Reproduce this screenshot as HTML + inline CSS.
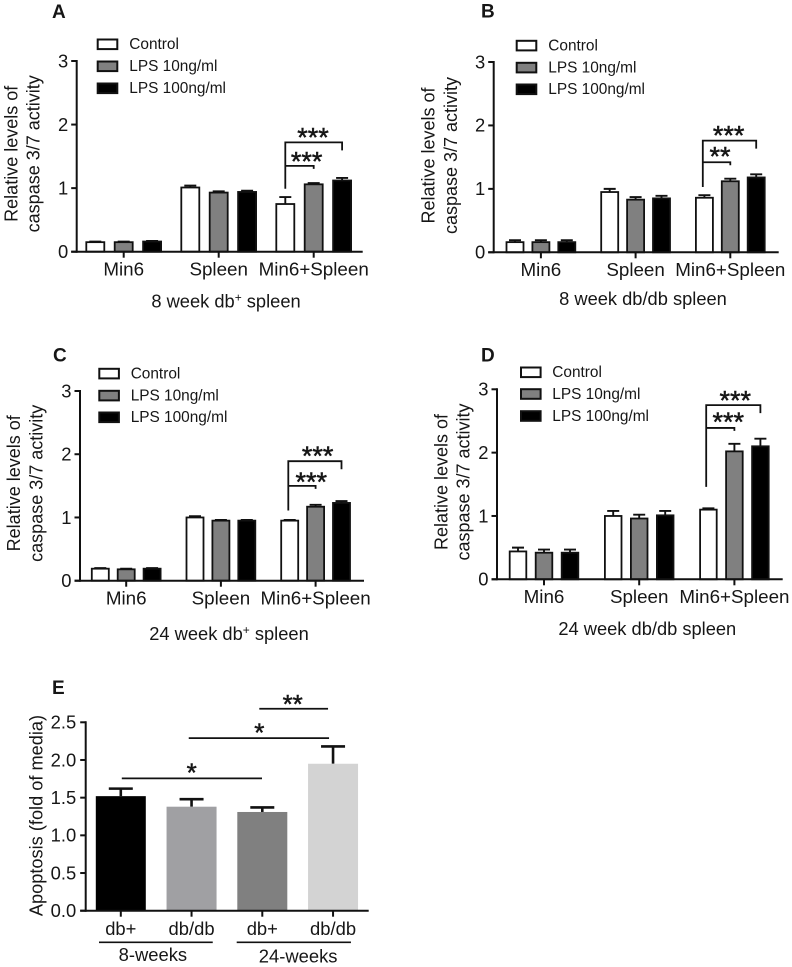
<!DOCTYPE html>
<html>
<head>
<meta charset="utf-8">
<title>Caspase 3/7 activity and apoptosis</title>
<style>
html,body{margin:0;padding:0;background:#fff;}
svg{display:block;font-family:"Liberation Sans",Arial,sans-serif;}
text{fill:#161616;}
</style>
</head>
<body>
<svg id="figure" xmlns="http://www.w3.org/2000/svg" width="792" height="967" viewBox="0 0 792 967"></svg>
<script>
// ---- Data ----
const categories = ['Min6', 'Spleen', 'Min6+Spleen'];
const seriesNames = ['Control', 'LPS 10ng/ml', 'LPS 100ng/ml'];
const caspaseTicks = [0, 1, 2, 3];

const aControl = [0.15, 1.01, 0.75];
const aLps10 = [0.15, 0.93, 1.06];
const aLps100 = [0.16, 0.94, 1.12];
const aControlErr = [0.01, 0.03, 0.11];
const aLps10Err = [0.01, 0.02, 0.02];
const aLps100Err = [0.01, 0.02, 0.04];

const bControl = [0.16, 0.95, 0.86];
const bLps10 = [0.16, 0.83, 1.12];
const bLps100 = [0.16, 0.85, 1.18];
const bControlErr = [0.03, 0.05, 0.04];
const bLps10Err = [0.03, 0.04, 0.04];
const bLps100Err = [0.03, 0.04, 0.05];

const cControl = [0.19, 1.00, 0.95];
const cLps10 = [0.18, 0.95, 1.17];
const cLps100 = [0.19, 0.95, 1.23];
const cControlErr = [0.01, 0.02, 0.01];
const cLps10Err = [0.01, 0.01, 0.03];
const cLps100Err = [0.01, 0.01, 0.03];

const dControl = [0.44, 1.00, 1.10];
const dLps10 = [0.42, 0.96, 2.02];
const dLps100 = [0.42, 1.01, 2.10];
const dControlErr = [0.06, 0.08, 0.02];
const dLps10Err = [0.05, 0.06, 0.12];
const dLps100Err = [0.05, 0.07, 0.12];

const eCategories = ['db+', 'db/db', 'db+', 'db/db'];
const eValues = [1.52, 1.38, 1.31, 1.95];
const eErrors = [0.10, 0.10, 0.06, 0.23];
const eTicks = ['0.0', '0.5', '1.0', '1.5', '2.0', '2.5'];
const eGroups = ['8-weeks', '24-weeks'];

// ---- Layout ----
const svg = document.getElementById('figure');
const NS = 'http://www.w3.org/2000/svg';
const INK = '#111';

function mk(tag, attrs, parent) {
  const n = document.createElementNS(NS, tag);
  for (const k in attrs) n.setAttribute(k, attrs[k]);
  (parent || svg).appendChild(n);
  return n;
}
function line(x1, y1, x2, y2, w, parent) {
  return mk('line', {x1: x1, y1: y1, x2: x2, y2: y2, stroke: INK, 'stroke-width': w, 'stroke-linecap': 'butt'}, parent);
}
function label(str, x, y, size, anchor, parent, extra) {
  const n = mk('text', Object.assign({x: x, y: y, 'font-size': size, 'text-anchor': anchor}, extra || {}), parent);
  n.textContent = str;
  return n;
}
function stars(str, cx, cy, size, parent) {
  return label(str, cx, cy + size * 0.47, size, 'middle', parent, {style: 'stroke:#161616;stroke-width:0.5'});
}

function drawPanel(p) {
  const g = mk('g', {}, svg);
  
  

  const yScale = v => p.y0 + (p.yTop - p.y0) * v / 3;
  const xScale = (group, s) => p.x0 + group * p.gap + s * p.step;
  const fills = ['#ffffff', '#808080', '#000000'];

  let el = label(p.id.toUpperCase(), p.letter[0], p.letter[1], 19, 'start', g, {'font-weight': 'bold'});
  
  

  p.values.forEach((vals, s) => {
    vals.forEach((v, i) => {
      const cx = xScale(i, s);
      const errBar = mk('path', {
        d: 'M' + cx + ' ' + yScale(v) + 'V' + yScale(v + p.errors[s][i]) + 'M' + (cx - 6) + ' ' + yScale(v + p.errors[s][i]) + 'H' + (cx + 6),
        stroke: INK, 'stroke-width': 1.9, fill: 'none'
      }, g);
      
      
      const bar = mk('rect', {
        x: cx - p.barW / 2, y: yScale(v), width: p.barW, height: p.y0 - yScale(v),
        fill: fills[s], stroke: INK, 'stroke-width': 1.8
      }, g);
      
      
    });
  });

  el = line(p.axisX, p.yTop - 1, p.axisX, p.y0 + 1, 2, g);
  
  
  el = line(p.axisX - 5.5, p.y0, p.xEnd, p.y0, 2, g);
  
  

  caspaseTicks.forEach(t => {
    el = line(p.axisX - 5.5, yScale(t), p.axisX, yScale(t), 2, g);
    
    
    el = label(String(t), p.axisX - 8.5, yScale(t) + 6.3, 18.4, 'end', g);
    
    
  });

  categories.forEach((c, i) => {
    const cx = xScale(i, 1);
    el = line(cx, p.y0, cx, p.y0 + 6, 2, g);
    
    
    el = label(c, cx, p.y0 + 23.8, 18.8, 'middle', g);
    
    
  });

  el = label('Relative levels of', 0, 0, 18, 'middle', g, {transform: 'translate(' + p.title[0] + ' ' + p.title[2] + ') rotate(-90)'});
  
  
  el = label('caspase 3/7 activity', 0, 0, 18, 'middle', g, {transform: 'translate(' + p.title[1] + ' ' + p.title[2] + ') rotate(-90)'});
  
  

  const xt = mk('text', {x: p.xTitle[0], y: p.xTitle[1], 'font-size': 18.3, 'text-anchor': 'middle'}, g);
  
  
  if (p.sup) {
    const a = mk('tspan', {}, xt); a.textContent = p.xText[0];
    const b = mk('tspan', {dy: -6, 'font-size': 12}, xt); b.textContent = '+';
    const c = mk('tspan', {dy: 6}, xt); c.textContent = p.xText[1];
  } else {
    xt.textContent = p.xText[0];
  }

  seriesNames.forEach((name, s) => {
    const ly = p.legend.y[s];
    const leg = mk('g', {}, g);
    
    
    mk('rect', {x: p.legend.x + 1, y: ly - 4.5, width: 19.6, height: 9.6, fill: fills[s], stroke: INK, 'stroke-width': 2}, leg);
    label(name, p.legend.tx, ly + 5.2, 15.4, 'start', leg);
  });

  const left = xScale(2, 0) + p.br.dx;
  const rTop = xScale(2, 2);
  const rLow = xScale(2, 1);
  const br = mk('path', {
    d: 'M' + left + ' ' + yScale(p.br.foot) + 'V' + yScale(p.br.top) + 'H' + rTop + 'V' + (yScale(p.br.top) + 8) +
       'M' + left + ' ' + yScale(p.br.low) + 'H' + rLow + 'V' + (yScale(p.br.low) + 3),
    stroke: INK, 'stroke-width': 1.8, fill: 'none'
  }, g);
  
  
  el = stars('***', p.br.s1[0], p.br.s1[1], 27, g);
  
  
  el = stars(p.br.low2 || '***', p.br.s2[0], p.br.s2[1], 27, g);
  
  
}

drawPanel({
  id: 'a', letter: [52, 18], axisX: 76.7, yTop: 61, y0: 251.7, xEnd: 362.7,
  x0: 95.3, step: 28.4, gap: 95, barW: 18,
  values: [aControl, aLps10, aLps100], errors: [aControlErr, aLps10Err, aLps100Err],
  title: [17.3, 39.3, 153.8], xTitle: [226, 307.3], xText: ['8 week db', ' spleen'], sup: true,
  legend: {x: 96.7, tx: 129.3, y: [44, 66, 88]},
  br: {dx: 0, top: 1.72, low: 1.35, foot: 0.99, s1: [313, 134], s2: [306.7, 158]}
});
drawPanel({
  id: 'b', letter: [481, 17.5], axisX: 493.7, yTop: 62, y0: 252.3, xEnd: 778.7,
  x0: 515, step: 25.9, gap: 94.7, barW: 17,
  values: [bControl, bLps10, bLps100], errors: [bControlErr, bLps10Err, bLps100Err],
  title: [434.7, 457, 155.5], xTitle: [643, 305], xText: ['8 week db/db spleen'], sup: false,
  legend: {x: 515.7, tx: 548.3, y: [45.3, 67.3, 89]},
  br: {dx: -1.6, top: 1.76, low: 1.42, foot: 1.03, s1: [728.7, 132], s2: [720, 153], low2: '**'}
});
drawPanel({
  id: 'c', letter: [53, 361.7], axisX: 80, yTop: 391, y0: 580.7, xEnd: 364,
  x0: 100.3, step: 25.9, gap: 94.7, barW: 17,
  values: [cControl, cLps10, cLps100], errors: [cControlErr, cLps10Err, cLps100Err],
  title: [20, 42.3, 483.3], xTitle: [229, 640], xText: ['24 week db', ' spleen'], sup: true,
  legend: {x: 98.3, tx: 130.7, y: [373.3, 395.3, 417]},
  br: {dx: -1.4, top: 1.89, low: 1.50, foot: 1.11, s1: [317.7, 452.3], s2: [311.3, 478.3]}
});
drawPanel({
  id: 'd', letter: [481, 361.7], axisX: 497, yTop: 389.3, y0: 579.3, xEnd: 782.7,
  x0: 518, step: 26, gap: 95.2, barW: 16.6,
  values: [dControl, dLps10, dLps100], errors: [dControlErr, dLps10Err, dLps100Err],
  title: [447.7, 469.3, 482], xTitle: [647.3, 635], xText: ['24 week db/db spleen'], sup: false,
  legend: {x: 520, tx: 552.3, y: [372, 393.7, 415.7]},
  br: {dx: -2.2, top: 2.75, low: 2.39, foot: 1.46, s1: [735.3, 396.7], s2: [728.3, 418.3]}
});

// ---- Panel E ----
(function () {
  const g = mk('g', {}, svg);
  
  

  const axisX = 85.7, y0 = 910.7, yTop = 722.3, xEnd = 368.7;
  const yScale = v => y0 + (yTop - y0) * v / 2.5;
  const xScale = i => 120.8 + i * 70.75;
  const fills = ['#000000', '#a0a0a3', '#808080', '#d3d3d3'];

  let el = label('E', 52, 694, 19, 'start', g, {'font-weight': 'bold'});
  
  

  eValues.forEach((v, i) => {
    const cx = xScale(i);
    const errBar = mk('path', {
      d: 'M' + cx + ' ' + yScale(v) + 'V' + yScale(v + eErrors[i]) + 'M' + (cx - 12) + ' ' + yScale(v + eErrors[i]) + 'H' + (cx + 12),
      stroke: INK, 'stroke-width': 2.6, fill: 'none'
    }, g);
    
    
    const bar = mk('rect', {x: cx - 25, y: yScale(v), width: 50, height: y0 - yScale(v), fill: fills[i]}, g);
    
    
  });

  el = line(axisX, yTop - 1, axisX, y0 + 1, 2, g);
  
  
  el = line(axisX - 5.5, y0, xEnd, y0, 2, g);
  
  

  eTicks.forEach(t => {
    const ty = yScale(parseFloat(t));
    el = line(axisX - 5.5, ty, axisX, ty, 2, g);
    
    
    el = label(t, axisX - 9.5, ty + 6.3, 18.4, 'end', g);
    
    
  });

  eCategories.forEach((c, i) => {
    const cx = xScale(i);
    el = line(cx, y0, cx, y0 + 6, 2, g);
    
    
    el = label(c, cx, 935, 18.4, 'middle', g);
    
    
  });

  el = label('Apoptosis (fold of media)', 0, 0, 18.2, 'middle', g, {transform: 'translate(42.3 815.5) rotate(-90)'});
  
  

  eGroups.forEach((name, i) => {
    const left = xScale(i * 2) - 21.8 - i * 3.8;
    const right = xScale(i * 2 + 1) + 21.2 - i * 3.3;
    el = line(left, 942.3, right, 942.3, 1.6, g);
    
    
    el = label(name, (left + right) / 2 - 3 + i * 7.3, 961 + i * 1.7, 18.4, 'middle', g);
    
    
  });

  el = line(xScale(0) + 1, yScale(1.756), xScale(2) - 0.3, yScale(1.756), 1.7, g);
  
  
  el = stars('*', 191.7, 769.5, 26, g);
  
  

  el = line(xScale(1) - 2.8, yScale(2.29), xScale(3) - 4, yScale(2.29), 1.7, g);
  
  
  el = stars('*', 259.3, 729.5, 26, g);
  
  

  el = line(xScale(2) - 3, yScale(2.68), xScale(3) - 5, yScale(2.68), 1.7, g);
  
  
  el = stars('**', 292.7, 700.7, 26, g);
  
  
})();
</script>
</body>
</html>
